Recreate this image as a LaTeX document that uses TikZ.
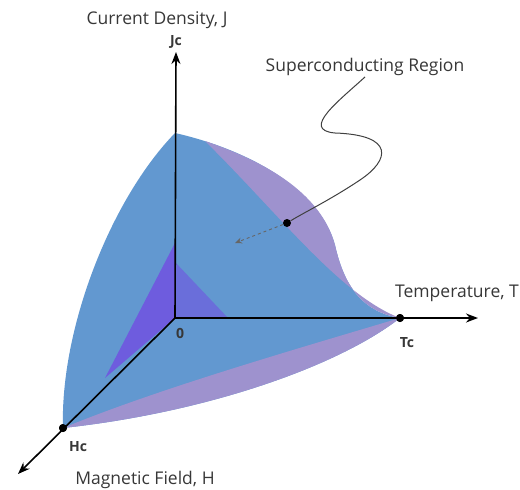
\documentclass[tikz,border=0pt]{standalone}
\usepackage{fontspec}
\setmainfont{Open Sans}
\usepackage{tikz}
\usetikzlibrary{arrows.meta,positioning}
\usepackage{xcolor}
\definecolor{scblue}{RGB}{98,152,208}
\definecolor{sclav}{RGB}{158,146,206}
\definecolor{scviolet}{RGB}{110,92,222}
\definecolor{labelgray}{RGB}{55,55,55}

\begin{document}
\begin{tikzpicture}[x=1pt, y=-1pt,
  axis/.style={-{Stealth[length=12pt, width=9pt]}, line width=1.6pt, black},
  blackdot/.style={circle, fill=black, inner sep=0pt, minimum size=8pt},
  lbl/.style={font=\fontsize{17.5}{20}\selectfont, text=labelgray, inner sep=1pt},
  ticklbl/.style={font=\fontsize{14}{16}\selectfont\bfseries, text=labelgray, inner sep=1pt},
  squiggle/.style={line width=1pt, black!75},
  pointer/.style={-{Stealth[length=7pt, width=6pt]}, dashed, line width=0.9pt, black!60},
]
\useasboundingbox (0,0) rectangle (520,490);
\coordinate (O) at (175,318);
\coordinate (Jtop) at (175,133);
\coordinate (Jend) at (176,52);
\coordinate (Tend) at (478,318);
\coordinate (Hend) at (18,474);
\node[blackdot] (Tc) at (400,318) {};
\node[blackdot] (Hc) at (63,428) {};

\fill[scblue] (Jtop) .. controls (250,150) and (320,190) .. (335,245)
  .. controls (345,290) and (365,312) .. (Tc.center)
  .. controls (340,365) and (210,412) .. (Hc.center)
  .. controls (60,330) and (110,200) .. (Jtop) -- cycle;
\fill[sclav] (205,141) .. controls (260,160) and (320,190) .. (335,245)
  .. controls (345,290) and (365,312) .. (Tc.center)
  .. controls (340,295) and (280,215) .. (205,141) -- cycle;
\fill[sclav] (Tc.center) .. controls (340,365) and (210,412) .. (Hc.center)
  .. controls (160,388) and (300,348) .. (Tc.center) -- cycle;
\fill[scviolet] (175,243) -- (O) -- (105,378) -- cycle;
\fill[scviolet!70!scblue] (175,262) -- (O) -- (228,318) -- cycle;

\draw[axis] (O) -- (Jend);
\draw[axis] (O) -- (Tend);
\draw[axis] (O) -- (Hend);
\node[blackdot] at (Tc) {};
\node[blackdot] at (Hc) {};

\node[lbl] (jlabel) at (157,20) {Current Density, J};
\node[ticklbl] (jc) at (176,42) {Jc};
\node[lbl] (tlabel) at (457,293) {Temperature, T};
\node[ticklbl] (tc) at (407,343) {Tc};
\node[ticklbl] (zero) at (180,333) {0};
\node[ticklbl] (hc) at (78,447) {Hc};
\node[lbl] (hlabel) at (145,480) {Magnetic Field, H};
\node[lbl] (region) at (365,67) {Superconducting Region};

\node[blackdot] (regdot) at (287,223) {};
\coordinate (regtip) at (235,243);
\draw[squiggle] (region.south) .. controls (340,100) and (300,130) .. (335,133)
  .. controls (395,135) and (390,160) .. (360,180)
  .. controls (330,200) and (305,212) .. (regdot);
\draw[pointer] (regdot) -- (regtip);
\end{tikzpicture}
\end{document}
